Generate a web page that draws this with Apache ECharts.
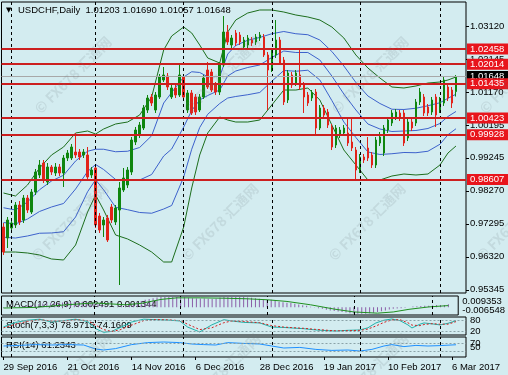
<!DOCTYPE html>
<html><head><meta charset="utf-8">
<script src="https://cdn.jsdelivr.net/npm/echarts@6/dist/echarts.min.js"></script>
<style>html,body{margin:0;padding:0;background:#d3ecf0;}#c{width:508px;height:375px;}</style>
</head><body><div id="c"></div>
<script>
// ---------- data ----------
const open=[0.97201,0.96876,0.97172,0.97260,0.97851,0.97408,0.98058,0.97644,0.98235,0.98738,
0.99092,0.98531,0.98974,0.98797,0.98974,0.98797,0.99240,0.99240,0.99417,0.99417,
0.99329,0.99329,0.98738,0.98945,0.97526,0.97260,0.97467,0.97792,0.97349,0.97703,
0.98294,0.98442,0.98826,0.99713,0.99920,1.00127,1.00658,1.01043,1.00658,1.01043,
1.01545,1.01663,1.01043,1.01309,1.01102,1.01634,1.00658,1.01161,1.01043,1.00658,
1.01043,1.01840,1.01781,1.01397,1.01190,1.01988,1.02963,1.02579,1.02934,1.02875,
1.02520,1.02579,1.02727,1.02668,1.02786,1.02816,1.02284,1.01900,1.02284,1.02727,
1.02136,1.00954,1.01693,1.01456,1.01693,1.01397,1.01102,1.01013,1.01190,1.00127,
1.00718,1.00599,1.00156,0.99624,0.99920,0.99979,0.99979,0.99713,0.99476,0.98885,
0.99270,0.99536,0.99329,0.99033,0.99683,0.99388,1.00067,1.00274,1.00452,1.00570,
1.00570,0.99831,1.00304,1.00274,1.00895,1.01043,1.00747,1.00599,1.01043,1.00658,
1.00865,1.01338,1.01249,1.01203];
const close=[0.96462,0.97408,0.97319,0.97851,0.97349,0.98058,0.97703,0.98235,0.98826,0.99033,
0.98590,0.98974,0.98826,0.98974,0.98797,0.99240,0.99388,0.99565,0.99329,0.99270,
0.99417,0.98679,0.98885,0.97260,0.97112,0.97408,0.96817,0.97408,0.97763,0.98354,
0.98649,0.98885,0.99772,1.00067,1.00215,1.00718,1.01013,1.00865,1.01102,1.01634,
1.01693,1.01338,1.01309,1.01102,1.01693,1.01043,1.01161,1.00570,1.00599,1.01043,
1.01604,1.01338,1.01249,1.01190,1.01988,1.02963,1.02668,1.02786,1.02638,1.02668,
1.02727,1.02786,1.02638,1.02816,1.02875,1.02284,1.01840,1.02343,1.02727,1.02047,
1.00895,1.01752,1.01397,1.01752,1.01338,1.01043,1.00865,1.01161,1.00127,1.00718,
1.00511,1.00215,0.99565,1.00127,1.00067,1.00127,0.99683,0.99536,0.98885,0.99270,
0.99181,0.99240,0.99033,0.99772,0.99861,1.00127,1.00363,1.00570,1.00599,1.00422,
0.99683,1.00304,1.00127,1.00895,1.01190,1.00570,1.00570,1.00954,1.00511,1.00954,
1.01545,1.01013,1.00865,1.01648];
const low=[0.96374,0.96581,0.97083,0.97172,0.97260,0.97319,0.97615,0.97585,0.98147,0.98649,
0.98501,0.98442,0.98738,0.98708,0.98708,0.98383,0.99151,0.99181,0.99240,0.99181,
0.99240,0.98590,0.98649,0.97172,0.97024,0.96906,0.96758,0.97319,0.97260,0.95487,
0.98235,0.98354,0.98738,0.99624,0.99831,1.00067,1.00570,1.00777,1.00570,1.00984,
1.01486,1.01249,1.00984,1.01013,1.01043,1.00954,1.00570,1.00511,1.00511,1.00599,
1.00984,1.01279,1.01190,1.01102,1.01102,1.01929,1.02579,1.02491,1.02550,1.02579,
1.02431,1.02491,1.02550,1.02579,1.02697,1.02225,1.00658,1.01781,1.02195,1.01988,
1.00806,1.00865,1.01309,1.01368,1.01249,1.00570,1.00777,1.00924,0.99920,1.00067,
1.00422,1.00127,0.99476,0.99536,0.99831,0.99890,0.99595,0.99447,0.98590,0.98797,
0.99092,0.99151,0.98945,0.98945,0.99595,0.99299,0.99979,1.00186,1.00363,1.00333,
0.99595,0.99742,1.00038,1.00186,1.00806,1.00481,1.00481,1.00511,1.00156,1.00570,
1.00777,1.00924,1.00718,1.01057];
const high=[0.97319,0.97497,0.97438,0.97940,0.97969,0.98147,0.98147,0.98324,0.98915,0.99181,
0.99181,0.99092,0.99033,0.99092,0.99063,0.99329,0.99476,0.99654,0.99979,0.99506,
0.99506,0.99565,0.98974,0.99033,0.97615,0.97497,0.97556,0.97881,0.97851,0.98531,
0.98945,0.98974,0.99861,1.00156,1.00304,1.00806,1.01102,1.01131,1.01190,1.01722,
1.01929,1.01752,1.01397,1.01397,1.02047,1.01722,1.01249,1.01249,1.01131,1.01131,
1.01693,1.02077,1.01870,1.01486,1.02077,1.03436,1.03170,1.02875,1.03022,1.02963,
1.02816,1.02875,1.02816,1.02904,1.02963,1.02904,1.02372,1.02491,1.03318,1.02816,
1.02225,1.01840,1.01781,1.01840,1.02431,1.01486,1.01190,1.01249,1.01279,1.00806,
1.00806,1.00688,1.00245,1.00215,1.00156,1.00215,1.00422,1.00422,0.99565,0.99358,
0.99358,0.99861,0.99417,0.99861,1.00008,1.00215,1.00452,1.00658,1.00688,1.00658,
1.00658,1.00393,1.00393,1.00984,1.01309,1.01131,1.00836,1.01043,1.01131,1.01043,
1.01634,1.01427,1.01338,1.01690];

// Bollinger-style envelopes (bar index, price)
const bandBars=[0,3,6,9,12,15,18,21,23,25,28,31,34,37,40,42,45,47,49,51,54,56,58,61,64,67,70,73,76,79,82,85,88,91,94,97,100,103,106,109,111,113];
const outerUpper=[0.98206,0.98117,0.98442,0.98945,0.99329,0.99565,0.99979,1.00038,0.99949,1.00097,1.00245,1.00304,1.00511,1.01043,1.02431,1.02845,1.03111,1.02934,1.02579,1.02195,1.02047,1.02963,1.03318,1.03525,1.03614,1.03614,1.03554,1.03466,1.03407,1.03318,1.03111,1.02786,1.02284,1.01900,1.01604,1.01338,1.01309,1.01368,1.01456,1.01486,1.01545,1.01634];
const outerLower=[0.96462,0.96462,0.96433,0.96374,0.96256,0.96226,0.96669,0.97644,0.98147,0.97703,0.96965,0.96847,0.96669,0.96462,0.96167,0.96167,0.97201,0.98354,0.99329,0.99979,1.00452,1.00363,1.00304,1.00304,1.00363,1.00806,1.01249,1.01249,1.01309,1.00954,1.00215,0.99476,0.99033,0.98590,0.98590,0.98708,0.98767,0.98738,0.98767,0.99033,0.99388,0.99595];
const innerMiddle=[0.97334,0.97290,0.97438,0.97660,0.97793,0.97896,0.98324,0.98841,0.99048,0.98900,0.98605,0.98576,0.98590,0.98753,0.99299,0.99506,1.00156,1.00644,1.00954,1.01087,1.01250,1.01663,1.01811,1.01915,1.01989,1.02210,1.02402,1.02358,1.02358,1.02136,1.01663,1.01131,1.00659,1.00245,1.00097,1.00023,1.00038,1.00053,1.00112,1.00260,1.00467,1.00615];
const innerUpper=[0.97770,0.97704,0.97940,0.98303,0.98561,0.98731,0.99152,0.99440,0.99499,0.99499,0.99425,0.99440,0.99551,0.99898,1.00865,1.01176,1.01634,1.01789,1.01767,1.01641,1.01649,1.02313,1.02565,1.02720,1.02802,1.02912,1.02978,1.02912,1.02883,1.02727,1.02387,1.01959,1.01472,1.01073,1.00851,1.00681,1.00674,1.00711,1.00784,1.00873,1.01006,1.01125];
const innerLower=[0.96898,0.96876,0.96936,0.97017,0.97025,0.97061,0.97497,0.98243,0.98598,0.98302,0.97785,0.97712,0.97630,0.97608,0.97733,0.97837,0.98679,0.99499,1.00142,1.00533,1.00851,1.01013,1.01058,1.01110,1.01176,1.01508,1.01826,1.01804,1.01834,1.01545,1.00939,1.00304,0.99846,0.99418,0.99344,0.99366,0.99403,0.99396,0.99440,0.99647,0.99928,1.00105];

const levels=[1.02458,1.02014,1.01435,1.00423,0.99928,0.98607];
const lastPrice=1.01648;
const priceTicks=[0.95345,0.96320,0.97295,0.98270,0.99245,1.00195,1.01170,1.02145,1.03120];

const macdMain=[-0.0005,-0.0004,-0.0002,0.0002,0.0005,0.0009,0.0012,0.0016,0.0021,0.0026,
0.0030,0.0033,0.0035,0.0037,0.0038,0.0040,0.0042,0.0044,0.0045,0.0046,
0.0046,0.0044,0.0043,0.0033,0.0024,0.0017,0.0008,0.0005,0.0004,0.0006,
0.0010,0.0014,0.0024,0.0033,0.0042,0.0052,0.0062,0.0068,0.0075,0.0082,
0.0086,0.0088,0.0089,0.0088,0.0090,0.0088,0.0084,0.0079,0.0075,0.0072,
0.0073,0.0072,0.0070,0.0068,0.0070,0.0080,0.0086,0.0089,0.0090,0.0089,
0.0087,0.0085,0.0082,0.0078,0.0075,0.0070,0.0064,0.0062,0.0062,0.0055,
0.0046,0.0042,0.0038,0.0034,0.0029,0.0023,0.0017,0.0011,0.0004,-0.0002,
-0.0008,-0.0014,-0.0021,-0.0027,-0.0032,-0.0036,-0.0040,-0.0044,-0.0050,-0.0053,
-0.0054,-0.0054,-0.0054,-0.0051,-0.0047,-0.0041,-0.0034,-0.0027,-0.0020,-0.0014,
-0.0012,-0.0008,-0.0005,0.0000,0.0006,0.0008,0.0010,0.0012,0.0011,0.0013,
0.0018,0.0019,0.0019,0.002491];
const macdSigBars=[0,8,16,23,27,31,35,40,44,50,56,62,67,72,78,84,89,95,99,103,108,113];
const macdSignal=[-0.0007,-0.0002,0.0020,0.0035,0.0028,0.0020,0.0032,0.0065,0.0078,0.0078,0.0075,0.0070,0.0062,0.0048,0.0020,-0.0016,-0.0040,-0.0050,-0.0040,-0.0018,0.0002,0.001344];
const macdMax=0.009353, macdMin=-0.006548;

const stochBars=[0,3,6,9,12,15,18,21,23,25,27,29,32,35,38,41,44,46,49,52,55,57,60,64,67,70,72,75,78,81,83,86,89,91,93,95,97,99,101,102,104,105,107,109,111,113];
const stochMain=[45,70,82,88,72,80,88,75,35,15,20,40,72,88,85,83,78,44,17,56,85,78,70,67,44,42,39,35,28,24,22,26,28,40,67,82,89,80,56,39,60,67,62,56,65,78.9715];
const stochSignal=[40,60,76,85,78,78,85,80,55,30,20,28,55,80,86,84,80,60,30,40,68,78,75,68,52,44,41,37,31,26,23,24,26,33,50,70,84,85,68,55,52,58,63,60,60,74.1609];

const rsiBars=[0,4,8,12,16,20,23,25,28,32,36,40,44,47,50,53,56,60,64,67,70,74,78,82,86,89,92,95,97,100,103,106,109,113];
const rsiValues=[55,58,62,60,62,60,40,35,42,62,72,75,72,65,62,60,72,68,65,55,45,48,38,33,35,30,38,55,62,52,58,55,57,61.2343];

const dateLabels=['29 Sep 2016','21 Oct 2016','14 Nov 2016','6 Dec 2016','28 Dec 2016','19 Jan 2017','10 Feb 2017','6 Mar 2017'];
const labelEvery=16;
const monthStartBars=[2,23,45,67,89,109];
const slotCount=116;

// ---------- chart ----------
const FONT='"Liberation Sans", Arial, sans-serif';
const GREEN='#0f860f', RED='#e2231a', LEVEL_RED='#cc1f1f';
const cats=Array.from({length:slotCount},(_,i)=>String(i));
const pair=(bars,vals)=>bars.map((b,i)=>[b,vals[i]]);
const candleData=open.map((o,i)=>[o,close[i],low[i],high[i]]);
const sepMark={silent:true,symbol:['none','none'],animation:false,precision:6,label:{show:false},
  lineStyle:{color:'#000',type:[3,3],width:1,opacity:1},data:monthStartBars.map(b=>({xAxis:b}))};
const L=1.5,R=42;
const grids=[
 {left:L,right:R,top:2,height:291},
 {left:L,right:R,top:296,height:19},
 {left:L,right:R,top:317,height:18},
 {left:L,right:R,top:337,height:20}
].map(g=>Object.assign(g,{show:true,borderColor:'#000',borderWidth:1,backgroundColor:'transparent'}));
const xAxes=grids.map((g,i)=>({
 type:'category',data:cats,gridIndex:i,boundaryGap:true,
 axisLine:{show:false},splitLine:{show:false},
 axisTick:i===3?{show:true,interval:labelEvery-1,alignWithLabel:true,length:3,lineStyle:{color:'#000'}}:{show:false},
 axisLabel:i===3?{show:true,interval:labelEvery-1,align:'left',fontSize:9.5,color:'#000',fontFamily:FONT,margin:5,
   formatter:(v,idx)=>dateLabels[idx/labelEvery]||''}:{show:false}
}));
const lab={fontSize:9.5,color:'#000',fontFamily:FONT,margin:4};
const yAxes=[
 {type:'value',gridIndex:0,position:'right',min:0.95251,max:1.03850,splitLine:{show:false},axisLine:{show:false},
  axisTick:{show:true,customValues:priceTicks,length:3,lineStyle:{color:'#000'}},
  axisLabel:Object.assign({customValues:priceTicks,formatter:v=>v.toFixed(5)},lab)},
 {type:'value',gridIndex:1,position:'right',min:macdMin,max:macdMax,splitLine:{show:false},axisLine:{show:false},axisTick:{show:false},
  axisLabel:Object.assign({customValues:[macdMax],formatter:v=>v.toFixed(6),verticalAlign:'top'},lab)},
 {type:'value',gridIndex:1,position:'right',min:macdMin,max:macdMax,splitLine:{show:false},axisLine:{show:false},axisTick:{show:false},
  axisLabel:Object.assign({customValues:[macdMin],formatter:v=>v.toFixed(6),verticalAlign:'bottom'},lab)},
 {type:'value',gridIndex:2,position:'right',min:0,max:100,splitLine:{show:false},axisLine:{show:false},axisTick:{show:false},
  axisLabel:Object.assign({customValues:[100,80,20]},lab)},
 {type:'value',gridIndex:3,position:'right',min:0,max:100,splitLine:{show:false},axisLine:{show:false},axisTick:{show:false},
  axisLabel:Object.assign({customValues:[100,70,50,30]},lab)}
];
const boxLabel=(bg)=>({show:true,position:'end',distance:1,formatter:p=>Number(p.value).toFixed(5),
  backgroundColor:bg,color:'#fff',fontSize:9.5,fontFamily:FONT,padding:[1,6,0,3],lineHeight:10});
const bandLine=(vals,color)=>({type:'line',xAxisIndex:0,yAxisIndex:0,data:pair(bandBars,vals),showSymbol:false,silent:true,
  lineStyle:{width:1,color:color},itemStyle:{color:color},z:3});
const levelMark=(vals)=>({silent:true,symbol:['none','none'],animation:false,precision:2,label:{show:false},
  lineStyle:{color:'#8aa3a8',type:[2,2],width:1,opacity:1},data:vals.map(v=>({yAxis:v}))});

const series=[
 {type:'candlestick',xAxisIndex:0,yAxisIndex:0,data:candleData,barWidth:2,z:4,
  itemStyle:{color:GREEN,color0:RED,borderColor:GREEN,borderColor0:RED,borderWidth:1},markLine:sepMark},
 bandLine(outerUpper,'#1d6e1d'),
 bandLine(outerLower,'#1d6e1d'),
 bandLine(innerUpper,'#3d62cc'),
 bandLine(innerMiddle,'#3d62cc'),
 bandLine(innerLower,'#3d62cc'),
 // current price line (black tag)
 {type:'line',xAxisIndex:0,yAxisIndex:0,data:[],clip:false,z:5,silent:true,
  markLine:{silent:true,symbol:['none','none'],animation:false,precision:5,z:5,
   lineStyle:{color:'#a8a8a8',type:'solid',width:1,opacity:1},label:boxLabel('#000'),data:[{yAxis:lastPrice}]}},
 // support / resistance levels (red tags)
 {type:'line',xAxisIndex:0,yAxisIndex:0,data:[],clip:false,z:6,silent:true,
  markLine:{silent:true,symbol:['none','none'],animation:false,precision:5,z:6,
   lineStyle:{color:LEVEL_RED,type:'solid',width:2,opacity:1},label:boxLabel('#e8141c'),data:levels.map(v=>({yAxis:v}))}},
 {type:'bar',xAxisIndex:1,yAxisIndex:1,data:macdMain,barWidth:1,itemStyle:{color:'#8b5ea8'},silent:true,markLine:sepMark},
 {type:'line',xAxisIndex:1,yAxisIndex:1,data:pair(macdSigBars,macdSignal),showSymbol:false,lineStyle:{width:1,color:'#1f8f1f'},silent:true},
 {type:'line',xAxisIndex:2,yAxisIndex:3,data:pair(stochBars,stochMain),showSymbol:false,lineStyle:{width:1,color:'#20b2aa'},silent:true,markLine:levelMark([80,20])},
 {type:'line',xAxisIndex:2,yAxisIndex:3,data:pair(stochBars,stochSignal),showSymbol:false,lineStyle:{width:1,color:'#d02020',type:[2,2]},silent:true,markLine:sepMark},
 {type:'line',xAxisIndex:3,yAxisIndex:4,data:pair(rsiBars,rsiValues),showSymbol:false,lineStyle:{width:1,color:'#1e90ff'},silent:true,markLine:levelMark([70,30])},
 {type:'line',xAxisIndex:3,yAxisIndex:4,data:[],silent:true,markLine:sepMark}
];

const txt=(x,y,t,extra)=>Object.assign({type:'text',x:x,y:y,silent:true,z:50,
  style:{text:t,fill:'#000',font:'9.5px '+FONT,textVerticalAlign:'middle'}},extra||{});
const wmCenters=[[73,75],[222,75],[370,75],[518,75],[70,222],[220,222],[367,222],[515,222],[73,372],[222,372],[370,372]];
const watermarks=wmCenters.map(c=>({type:'text',x:c[0],y:c[1],rotation:Math.PI/4,silent:true,z:100,
  style:{text:'© FX678 汇通网',fill:'rgba(110,125,130,0.16)',font:'bold 14px "Noto Sans CJK SC", "DejaVu Sans", sans-serif',
  textAlign:'center',textVerticalAlign:'middle'}}));

const graphic=[
 txt(6,10,'▼',{style:{text:'▼',fill:'#000',font:'7px "DejaVu Sans", sans-serif',textVerticalAlign:'middle'}}),
 txt(18,10,'USDCHF,Daily  1.01203 1.01690 1.01057 1.01648'),
 txt(6,304,'MACD(12,26,9) 0.002491 0.001344',{z:1}),
 txt(6,325,'Stoch(7,3,3) 78.9715 74.1609',{z:1}),
 txt(6,345,'RSI(14) 61.2343',{z:1})
].concat(watermarks);

const chart=echarts.init(document.getElementById('c'),null,{renderer:'canvas'});
chart.setOption({
 backgroundColor:'#d3ecf0',animation:false,
 textStyle:{fontFamily:FONT},
 grid:grids,xAxis:xAxes,yAxis:yAxes,series:series,graphic:graphic
});
</script></body></html>
